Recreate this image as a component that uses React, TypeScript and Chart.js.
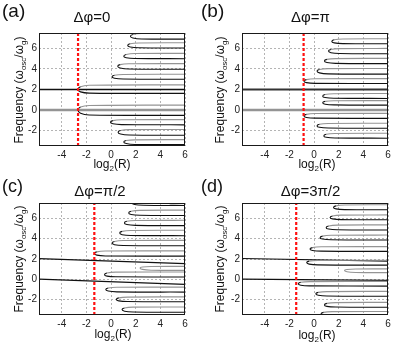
import React, { useEffect, useRef } from "react";
import { Chart, registerables } from "chart.js";
Chart.register(...registerables);

type Pt = [number, number];

const X_MIN = -5.85;
const X_MAX = 6;
const Y_MIN = -3.5;
const Y_MAX = 7.5;
const xTicks = [-4, -2, 0, 2, 4, 6];
const yTicks = [-2, 0, 2, 4, 6];

const titles = ["Δφ=0", "Δφ=π", "Δφ=π/2", "Δφ=3π/2"];
const letters = ["(a)", "(b)", "(c)", "(d)"];

// red dashed threshold (log2 R)
const redA = -2.68;
const redB = -0.85;
const redC = -1.36;
const redD = -1.45;

const tonguesA: Pt[][] = [
  [[6, 7.48], [2.47, 7.46], [1.77, 7.36], [1.57, 7.19], [1.77, 7.02], [2.47, 6.92], [6, 6.9]],
  [[6, 6.55], [2.25, 6.53], [1.55, 6.45], [1.35, 6.29], [1.55, 6.14], [2.25, 6.06], [6, 6.04]],
  [[6, 5.52], [1.93, 5.5], [1.23, 5.4], [1.03, 5.23], [1.23, 5.09], [1.93, 5.02], [6, 5.0]],
  [[6, 4.52], [1.44, 4.5], [0.74, 4.42], [0.54, 4.26], [0.74, 4.09], [1.44, 3.99], [6, 3.97]],
  [[6, 3.48], [0.98, 3.46], [0.28, 3.38], [0.08, 3.23], [0.28, 3.09], [0.98, 3.02], [6, 3.0]],
  [[6, 2.45], [-1.78, 2.41], [-2.48, 2.27], [-2.68, 2.0], [-2.48, 1.77], [-1.78, 1.65], [6, 1.62]],
  [[6, 0.48], [-1.78, 0.44], [-2.48, 0.29], [-2.68, 0.0], [-2.48, -0.31], [-1.78, -0.48], [6, -0.52]],
  [[6, -0.93], [0.85, -0.95], [0.15, -1.03], [-0.05, -1.19], [0.15, -1.34], [0.85, -1.42], [6, -1.44]],
  [[6, -1.89], [1.47, -1.91], [0.77, -1.99], [0.57, -2.15], [0.77, -2.33], [1.47, -2.43], [6, -2.45]],
  [[6, -2.88], [1.93, -2.9], [1.23, -2.97], [1.03, -3.1], [1.23, -3.26], [1.93, -3.35], [6, -3.37]],
];
const tonguesB: Pt[][] = [
  [[6, 6.94], [2.34, 6.92], [1.64, 6.84], [1.44, 6.68], [1.64, 6.54], [2.34, 6.47], [6, 6.45]],
  [[6, 6.0], [2.07, 5.98], [1.37, 5.9], [1.17, 5.74], [1.37, 5.58], [2.07, 5.5], [6, 5.48]],
  [[6, 5.03], [1.74, 5.01], [1.04, 4.93], [0.84, 4.77], [1.04, 4.62], [1.74, 4.54], [6, 4.52]],
  [[6, 4.05], [1.14, 4.03], [0.44, 3.95], [0.24, 3.81], [0.44, 3.62], [1.14, 3.52], [6, 3.5]],
  [[6, 3.06], [0.08, 3.04], [-0.62, 2.96], [-0.82, 2.81], [-0.62, 2.67], [0.08, 2.6], [6, 2.58]],
  [[6, 1.61], [1.6, 1.59], [0.9, 1.51], [0.7, 1.35], [0.9, 1.22], [1.6, 1.15], [6, 1.13]],
  [[6, 0.92], [1.6, 0.9], [0.9, 0.84], [0.7, 0.71], [0.9, 0.57], [1.6, 0.5], [6, 0.48]],
  [[6, -0.32], [0.08, -0.34], [-0.62, -0.42], [-0.82, -0.58], [-0.62, -0.72], [0.08, -0.79], [6, -0.81]],
  [[6, -1.29], [1.14, -1.31], [0.44, -1.39], [0.24, -1.55], [0.44, -1.68], [1.14, -1.75], [6, -1.77]],
  [[6, -2.26], [1.69, -2.28], [0.99, -2.36], [0.79, -2.52], [0.99, -2.65], [1.69, -2.72], [6, -2.74]],
];
const tonguesC: Pt[][] = [
  [[6, 7.78], [2.6, 7.76], [1.9, 7.68], [1.7, 7.52], [1.9, 7.36], [2.6, 7.28], [6, 7.26]],
  [[6, 6.8], [2.33, 6.78], [1.63, 6.69], [1.43, 6.53], [1.63, 6.37], [2.33, 6.29], [6, 6.27]],
  [[6, 5.8], [1.98, 5.78], [1.28, 5.7], [1.08, 5.54], [1.28, 5.38], [1.98, 5.3], [6, 5.28]],
  [[6, 4.82], [1.6, 4.8], [0.9, 4.71], [0.7, 4.55], [0.9, 4.39], [1.6, 4.31], [6, 4.29]],
  [[6, 3.83], [0.98, 3.81], [0.28, 3.72], [0.08, 3.56], [0.28, 3.4], [0.98, 3.32], [6, 3.3]],
  [[6, 2.8], [-0.46, 2.78], [-1.16, 2.7], [-1.36, 2.54], [-1.16, 2.38], [-0.46, 2.3], [6, 2.28]],
  [[6, 0.73], [0.37, 0.71], [-0.33, 0.62], [-0.53, 0.46], [-0.33, 0.32], [0.37, 0.25], [6, 0.23]],
  [[6, -0.76], [0.47, -0.78], [-0.23, -0.85], [-0.43, -0.99], [-0.23, -1.15], [0.47, -1.23], [6, -1.25]],
  [[6, -1.72], [1.33, -1.74], [0.63, -1.82], [0.43, -1.98], [0.63, -2.11], [1.33, -2.18], [6, -2.2]],
  [[6, -2.71], [1.79, -2.73], [1.09, -2.81], [0.89, -2.97], [1.09, -3.13], [1.79, -3.21], [6, -3.23]],
];
const greyC: Pt[][] = [
  [[6, 1.28], [3.25, 1.27], [2.55, 1.22], [2.35, 1.12], [2.55, 0.98], [3.25, 0.9], [6, 0.88]],
];
const tonguesD: Pt[][] = [
  [[6, 7.33], [2.48, 7.31], [1.78, 7.22], [1.58, 7.06], [1.78, 6.92], [2.48, 6.85], [6, 6.83]],
  [[6, 6.33], [2.2, 6.31], [1.5, 6.23], [1.3, 6.07], [1.5, 5.94], [2.2, 5.87], [6, 5.85]],
  [[6, 5.35], [1.88, 5.33], [1.18, 5.24], [0.98, 5.08], [1.18, 4.94], [1.88, 4.87], [6, 4.85]],
  [[6, 4.35], [1.39, 4.33], [0.69, 4.25], [0.49, 4.09], [0.69, 3.96], [1.39, 3.89], [6, 3.87]],
  [[6, 3.22], [0.57, 3.2], [-0.13, 3.12], [-0.33, 2.97], [-0.13, 2.84], [0.57, 2.77], [6, 2.75]],
  [[6, 1.88], [0.3, 1.86], [-0.4, 1.79], [-0.6, 1.65], [-0.4, 1.5], [0.3, 1.42], [6, 1.4]],
  [[6, -0.2], [-0.38, -0.22], [-1.08, -0.29], [-1.28, -0.43], [-1.08, -0.57], [-0.38, -0.64], [6, -0.66]],
  [[6, -1.18], [1.04, -1.2], [0.34, -1.28], [0.14, -1.42], [0.34, -1.56], [1.04, -1.64], [6, -1.66]],
  [[6, -2.26], [1.74, -2.28], [1.04, -2.36], [0.84, -2.51], [1.04, -2.65], [1.74, -2.72], [6, -2.74]],
  [[6, -3.15], [1.47, -3.17], [0.77, -3.24], [0.57, -3.38], [0.77, -3.51], [1.47, -3.58], [6, -3.6]],
];
const greyD: Pt[][] = [
  [[6, 1.03], [3.37, 1.02], [2.67, 0.97], [2.47, 0.89], [2.67, 0.75], [3.37, 0.68], [6, 0.66]],
];

// horizontal branches: [y≈2 branch, y≈0 branch]
const linesA: Pt[][] = [[[-5.85, 2], [6, 2]], [[-5.85, 0], [6, 0]]];
const linesB: Pt[][] = [[[-5.85, 2], [6, 2]], [[-5.85, 0], [6, 0]]];
const linesC: Pt[][] = [[[-5.85, 2.04], [6, 1.55]], [[-5.85, 0.03], [6, -0.5]]];
const linesD: Pt[][] = [[[-5.85, 2.05], [6, 1.8]], [[-5.85, 0.02], [6, -0.1]]];

const FONT = "'Liberation Sans', Arial, Helvetica, sans-serif";
const BLACK = "#111111";
const GREY = "#949494";

type LineStyle = { color: string; width: number };

type PanelCfg = {
  left: number;
  top: number;
  w: number;
  h: number;
  padTop: number;
  padRight: number;
  xH: number;
  red: number;
  tongues: Pt[][];
  grey: Pt[][];
  lines: Pt[][];
  lineStyles: LineStyle[];
};

const panels: PanelCfg[] = [
  { left: 0, top: 0, w: 199, h: 172, padTop: 33, padRight: 14, xH: 26, red: redA, tongues: tonguesA, grey: [], lines: linesA,
    lineStyles: [{ color: BLACK, width: 1.3 }, { color: GREY, width: 2.4 }] },
  { left: 203, top: 0, w: 196, h: 172, padTop: 33, padRight: 11, xH: 26, red: redB, tongues: tonguesB, grey: [], lines: linesB,
    lineStyles: [{ color: "#333", width: 1.8 }, { color: GREY, width: 2.6 }] },
  { left: 0, top: 172, w: 199, h: 173, padTop: 31, padRight: 14, xH: 30, red: redC, tongues: tonguesC, grey: greyC, lines: linesC,
    lineStyles: [{ color: BLACK, width: 1.2 }, { color: BLACK, width: 1.2 }] },
  { left: 203, top: 172, w: 196, h: 173, padTop: 31, padRight: 11, xH: 30, red: redD, tongues: tonguesD, grey: greyD, lines: linesD,
    lineStyles: [{ color: BLACK, width: 1.2 }, { color: BLACK, width: 1.2 }] },
];

const toXY = (pts: Pt[]) => pts.map(([x, y]) => ({ x, y }));

const boxPlugin = {
  id: "box",
  afterDatasetsDraw(chart: any) {
    const { ctx, chartArea: a } = chart;
    ctx.save();
    ctx.strokeStyle = "#1a1a1a";
    ctx.lineWidth = 1;
    ctx.setLineDash([]);
    ctx.strokeRect(Math.round(a.left) + 0.5, Math.round(a.top) + 0.5, Math.round(a.right - a.left) - 1, Math.round(a.bottom - a.top) - 1);
    ctx.restore();
  },
};

function Panel({ cfg }: { cfg: PanelCfg }) {
  const ref = useRef<HTMLCanvasElement | null>(null);
  useEffect(() => {
    if (!ref.current) return;
    const datasets: any[] = [];
    datasets.push({
      data: [{ x: cfg.red, y: Y_MIN }, { x: cfg.red, y: Y_MAX }],
      showLine: true, borderColor: "#ff1010", borderWidth: 2.2, borderDash: [3, 2], pointRadius: 0, tension: 0,
    });
    cfg.tongues.forEach((t) => {
      datasets.push({
        data: toXY(t), showLine: true, borderColor: BLACK, borderWidth: 1.1, pointRadius: 0, tension: 0.35,
        segment: { borderColor: (c: any) => (c.p0DataIndex <= 1 ? GREY : undefined) },
      });
    });
    cfg.grey.forEach((t) => {
      datasets.push({ data: toXY(t), showLine: true, borderColor: GREY, borderWidth: 1.1, pointRadius: 0, tension: 0.35 });
    });
    cfg.lines.forEach((l, i) => {
      const st = cfg.lineStyles[i];
      datasets.push({ data: toXY(l), showLine: true, borderColor: st.color, borderWidth: st.width, pointRadius: 0, tension: 0 });
    });

    const tickFont = { family: FONT, size: 10 };
    const chart = new Chart(ref.current, {
      type: "scatter",
      data: { datasets },
      options: {
        animation: false,
        responsive: false,
        devicePixelRatio: 1,
        events: [],
        layout: { padding: { left: 0, right: cfg.padRight, top: cfg.padTop, bottom: 0 } },
        plugins: { legend: { display: false }, tooltip: { enabled: false }, title: { display: false } },
        scales: {
          x: {
            type: "linear", min: X_MIN, max: X_MAX,
            afterBuildTicks: (s: any) => { s.ticks = xTicks.map((v) => ({ value: v })); },
            afterFit: (s: any) => { s.height = cfg.xH; },
            grid: { color: "#b4b4b4", lineWidth: 1, drawTicks: false },
            border: { display: false, dash: [2, 2] },
            ticks: { padding: 3, color: "#222", font: tickFont, maxRotation: 0, autoSkip: false, callback: (v: any) => String(v) },
          },
          y: {
            type: "linear", min: Y_MIN, max: Y_MAX,
            afterBuildTicks: (s: any) => { s.ticks = yTicks.map((v) => ({ value: v })); },
            afterFit: (s: any) => { s.width = 39; },
            grid: { color: "#b4b4b4", lineWidth: 1, drawTicks: false },
            border: { display: false, dash: [2, 2] },
            ticks: { padding: 2, color: "#222", font: tickFont, autoSkip: false, callback: (v: any) => String(v) },
          },
        },
      } as any,
      plugins: [boxPlugin],
    });
    return () => chart.destroy();
  }, [cfg]);
  return (
    <canvas
      ref={ref}
      width={cfg.w}
      height={cfg.h}
      style={{ position: "absolute", left: cfg.left, top: cfg.top, width: cfg.w, height: cfg.h }}
    />
  );
}

const subStyle: React.CSSProperties = { fontSize: 8, verticalAlign: -3, lineHeight: 0 };

function abs(x: number, y: number, extra: React.CSSProperties = {}): React.CSSProperties {
  return { position: "absolute", left: x, top: y, transform: "translate(-50%, -50%)", whiteSpace: "nowrap", ...extra };
}

export default function App() {
  const letterPos = [[2, 1, 19], [201, 1, 19], [2, 177, 18], [201, 177, 18]];
  const titlePos = [[92, 16], [310.5, 16], [100, 190], [310.5, 190]];
  const yLabPos = [[18.5, 89.5], [219.5, 89.5], [18.5, 259], [220, 259]];
  const xLabPos = [[112, 164], [317, 164], [113, 334], [317, 335]];
  return (
    <div style={{ position: "fixed", left: 0, top: 0, width: 399, height: 345, background: "#fff", fontFamily: FONT, color: "#111", overflow: "hidden" }}>
      {panels.map((p, i) => (
        <Panel key={i} cfg={p} />
      ))}
      {letters.map((t, i) => (
        <div key={"l" + i} style={{ position: "absolute", left: letterPos[i][0], top: letterPos[i][1], fontSize: letterPos[i][2], lineHeight: letterPos[i][2] + "px" }}>{t}</div>
      ))}
      {titles.map((t, i) => (
        <div key={"t" + i} style={abs(titlePos[i][0], titlePos[i][1], { fontSize: 15, lineHeight: "15px" })}>{t}</div>
      ))}
      {yLabPos.map((p, i) => (
        <div key={"y" + i} style={abs(p[0], p[1], { fontSize: 12, lineHeight: "12px", transform: "translate(-50%, -50%) rotate(-90deg)" })}>
          Frequency (ω<span style={subStyle}>osc</span>/ω<span style={subStyle}>g</span>)
        </div>
      ))}
      {xLabPos.map((p, i) => (
        <div key={"x" + i} style={abs(p[0], p[1], { fontSize: 12, lineHeight: "12px" })}>
          log<span style={subStyle}>2</span>(R)
        </div>
      ))}
    </div>
  );
}
